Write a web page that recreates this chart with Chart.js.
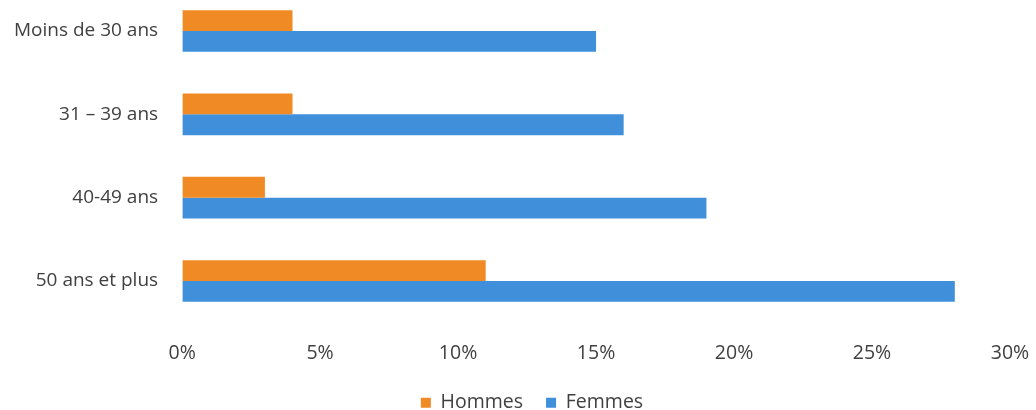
<!DOCTYPE html>
<html><head><meta charset="utf-8">
<script src="https://cdn.jsdelivr.net/npm/chart.js@4/dist/chart.umd.min.js"></script>
<style>html,body{margin:0;padding:0;background:#fff;}#wrap{width:1036px;height:410px;position:relative;}</style>
</head><body><div id="wrap"><canvas id="c" width="1036" height="410"></canvas></div>
<script>
const categories = ["Moins de 30 ans", "31 – 39 ans", "40-49 ans", "50 ans et plus"];
const hommes = [4, 4, 3, 11];
const femmes = [15, 16, 19, 28];
const xTicks = [0, 5, 10, 15, 20, 25, 30];
const FONT = "'Open Sans', Lato, sans-serif";
const shiftLegend = {
  id: 'shiftLegend',
  afterLayout(chart) { if (chart.legend) chart.legend._shifted = false; },
  beforeDraw(chart) {
    const L = chart.legend;
    if (L && !L._shifted) { L.left += 28; L.right += 28; L._shifted = true; }
  }
};
new Chart(document.getElementById('c'), {
  type: 'bar',
  data: {
    labels: categories,
    datasets: [
      {label: 'Hommes', data: hommes, backgroundColor: '#F08A24', categoryPercentage: 0.5, barPercentage: 1, clip: false},
      {label: 'Femmes', data: femmes, backgroundColor: '#3F8FDB', categoryPercentage: 0.5, barPercentage: 1, clip: false}
    ]
  },
  plugins: [shiftLegend],
  options: {
    indexAxis: 'y',
    responsive: false,
    animation: false,
    layout: {padding: {top: 31, right: 26, left: -2, bottom: -12.5}},
    scales: {
      x: {
        min: 0, max: 30,
        grid: {display: true, drawOnChartArea: false, color: 'rgba(0,0,0,0)', tickLength: 58},
        border: {display: false},
        afterBuildTicks: s => { s.ticks = xTicks.map(v => ({value: v})); },
        afterFit: s => { s.height = 89; },
        ticks: {callback: v => v + '%', color: '#404040', font: {family: FONT, size: 19.5}, padding: 3, maxRotation: 0}
      },
      y: {
        offset: false,
        grid: {display: false}, border: {display: false},
        ticks: {color: '#404040', font: {family: FONT, size: 19}, padding: 16}
      }
    },
    plugins: {
      legend: {position: 'bottom', labels: {boxWidth: 10, boxHeight: 10, color: '#404040', font: {family: FONT, size: 19.5}, padding: 23}},
      tooltip: {enabled: false}
    }
  }
});
</script></body></html>
